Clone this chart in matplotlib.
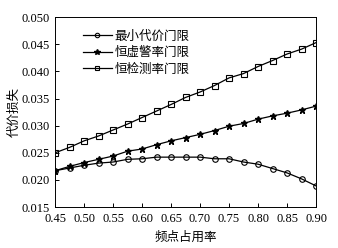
import numpy as np
import matplotlib
matplotlib.use('Agg')
import matplotlib.pyplot as plt

plt.rcParams['font.family'] = ['Liberation Serif', 'Noto Sans CJK SC']
plt.rcParams['axes.unicode_minus'] = False

# data
occupancy = [0.45, 0.475, 0.50, 0.525, 0.55, 0.575, 0.60, 0.625, 0.65, 0.675,
             0.70, 0.725, 0.75, 0.775, 0.80, 0.825, 0.85, 0.875, 0.90]
min_cost = [0.0217, 0.0222, 0.0227, 0.0231, 0.0233, 0.0238, 0.0239, 0.0242, 0.0242, 0.0242,
            0.0242, 0.0239, 0.0239, 0.0233, 0.0229, 0.0221, 0.0213, 0.0202, 0.0189]
const_fa = [0.0217, 0.0225, 0.0232, 0.0238, 0.0244, 0.0253, 0.0257, 0.0265, 0.0272, 0.0278,
            0.0284, 0.0291, 0.0299, 0.0304, 0.0312, 0.0318, 0.0323, 0.0329, 0.0336]
const_pd = [0.0250, 0.0260, 0.0272, 0.0281, 0.0292, 0.0303, 0.0315, 0.0327, 0.0339, 0.0352,
            0.0362, 0.0374, 0.0388, 0.0396, 0.0409, 0.0420, 0.0432, 0.0441, 0.0453]
labels = ['最小代价门限', '恒虚警率门限', '恒检测率门限']
xticks = [0.45, 0.50, 0.55, 0.60, 0.65, 0.70, 0.75, 0.80, 0.85, 0.90]
yticks = [0.015, 0.020, 0.025, 0.030, 0.035, 0.040, 0.045, 0.050]

fig = plt.figure(figsize=(3.38, 2.48), dpi=100)
ax = fig.add_axes([0.163, 0.165, 0.772, 0.766])

ax.plot(occupancy, min_cost, color='black', lw=0.9, marker='o', ms=4,
        mfc='none', mec='black', mew=0.8, label=labels[0])
ax.plot(occupancy, const_fa, color='black', lw=0.9, marker='*', ms=5,
        mfc='black', mec='black', label=labels[1])
ax.plot(occupancy, const_pd, color='black', lw=0.9, marker='s', ms=4,
        mfc='none', mec='black', mew=0.8, label=labels[2])

ax.set_xlim(0.45, 0.90)
ax.set_ylim(0.015, 0.050)
ax.set_xticks(xticks)
ax.set_xticklabels(['%.2f' % v for v in xticks])
ax.set_yticks(yticks)
ax.set_yticklabels(['%.3f' % v for v in yticks])
ax.tick_params(direction='in', length=3, labelsize=9, width=0.7)
ax.tick_params(axis='x', pad=4)
for s in ax.spines.values():
    s.set_linewidth(0.7)

ax.set_xlabel('频点占用率', fontsize=9, labelpad=5)
ax.set_ylabel('代价损失', fontsize=9, labelpad=1)

leg = ax.legend(loc='upper left', bbox_to_anchor=(0.107, 0.93), frameon=False,
                fontsize=9, handlelength=2.3, handletextpad=0.2, labelspacing=0.35,
                borderpad=0, borderaxespad=0, markerscale=0.8)

fig.savefig('out.png', dpi=100)
